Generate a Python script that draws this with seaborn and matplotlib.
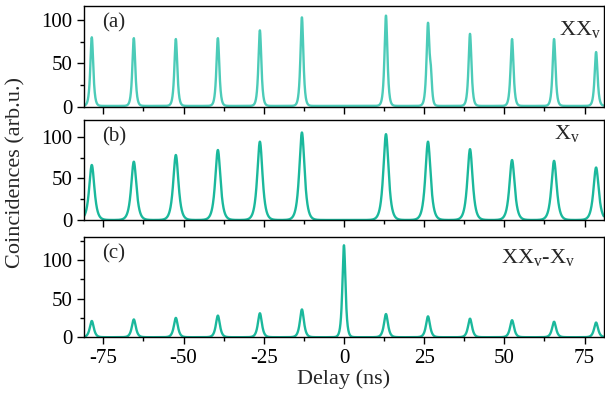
import numpy as np
import pandas as pd
import matplotlib
matplotlib.use("Agg")
import matplotlib.pyplot as plt
from matplotlib.ticker import MultipleLocator
import seaborn as sns

# peak centres (ns)
centers = [-78.6, -65.5, -52.4, -39.3, -26.2, -13.1, 0.0, 13.1, 26.2, 39.3, 52.4, 65.5, 78.6]
# peak heights for each panel (0 = no peak at zero delay)
heights_a = [79, 78, 77, 78, 87, 102, 0, 104, 93, 83, 77, 77, 62]
heights_b = [66, 70, 78, 84, 94, 105, 0, 103, 94, 85, 72, 71, 63]
heights_c = [21, 23, 25, 28, 31, 36, 119, 30, 27, 24, 22, 20, 19]
# small satellite peak in panel (a)
sat_center_a = 27.1
sat_height_a = 27
# peak time constants (ns)
tau_a = 0.4
tau_b = 0.72
tau_c = 0.55
tau_c0 = 0.42
baseline_a = 1.0

labels = ["(a)", "(b)", "(c)"]
tags = [r"XX$_\mathrm{v}$", r"X$_\mathrm{v}$", r"XX$_\mathrm{v}$-X$_\mathrm{v}$"]
ylims = [(0, 116), (0, 120), (0, 130)]
colors = ["#4ccbb8", "#1bb89c", "#1bb89c"]

t = np.linspace(-81, 81, 4001)


def trace(heights, taus, base=0.0):
    y = np.full_like(t, base)
    for c, h, tau in zip(centers, heights, taus):
        y += h / np.cosh((t - c) / tau)
    return y


ya = trace(heights_a, [tau_a] * 13, baseline_a) + sat_height_a / np.cosh((t - sat_center_a) / 0.3)
yb = trace(heights_b, [tau_b] * 13)
yc = trace(heights_c, [tau_c0 if c == 0 else tau_c for c in centers])

df = pd.DataFrame({"delay": np.tile(t, 3),
                   "counts": np.concatenate([ya, yb, yc]),
                   "panel": np.repeat(labels, len(t))})

sns.set_style("ticks")
plt.rcParams["font.family"] = ["Liberation Serif", "DejaVu Serif"]
plt.rcParams["mathtext.fontset"] = "custom"
plt.rcParams["mathtext.rm"] = "Liberation Serif"
plt.rcParams["axes.edgecolor"] = "black"
plt.rcParams["axes.linewidth"] = 1.0
plt.rcParams["axes.unicode_minus"] = False

fig = plt.figure(figsize=(6.05, 4.0), dpi=100)
boxes = [(0.139, 0.733, 0.859, 0.252), (0.139, 0.450, 0.859, 0.250), (0.139, 0.157, 0.859, 0.251)]
axes = []
for i, lab in enumerate(labels):
    ax = fig.add_axes(boxes[i])
    sub = df[df["panel"] == lab]
    sns.lineplot(data=sub, x="delay", y="counts", ax=ax, color=colors[i], lw=1.7)
    ax.set_xlim(-81, 81)
    ax.set_ylim(*ylims[i])
    ax.xaxis.set_major_locator(MultipleLocator(25))
    ax.xaxis.set_minor_locator(MultipleLocator(12.5))
    ax.yaxis.set_major_locator(MultipleLocator(50))
    ax.yaxis.set_minor_locator(MultipleLocator(25))
    ax.tick_params(which="major", direction="out", length=5, width=1, labelsize=15, colors="black")
    ax.tick_params(which="minor", direction="out", length=3, width=1, colors="black")
    ax.set_xlabel("")
    ax.set_ylabel("")
    if i < 2:
        ax.tick_params(labelbottom=False)
    ax.text(0.035, 0.83, lab, transform=ax.transAxes, fontsize=15, va="center", ha="left")
    axes.append(ax)

axes[0].text(0.995, 0.76, tags[0], transform=axes[0].transAxes, fontsize=16, ha="right", va="center")
axes[1].text(0.955, 0.86, tags[1], transform=axes[1].transAxes, fontsize=16, ha="right", va="center")
axes[2].text(0.945, 0.79, tags[2], transform=axes[2].transAxes, fontsize=16, ha="right", va="center")

axes[2].set_xlabel("Delay (ns)", fontsize=16, labelpad=1)
fig.text(0.027, 0.57, "Coincidences (arb.u.)", rotation=90, fontsize=16, ha="center", va="center")

fig.savefig("out.png", dpi=100)
